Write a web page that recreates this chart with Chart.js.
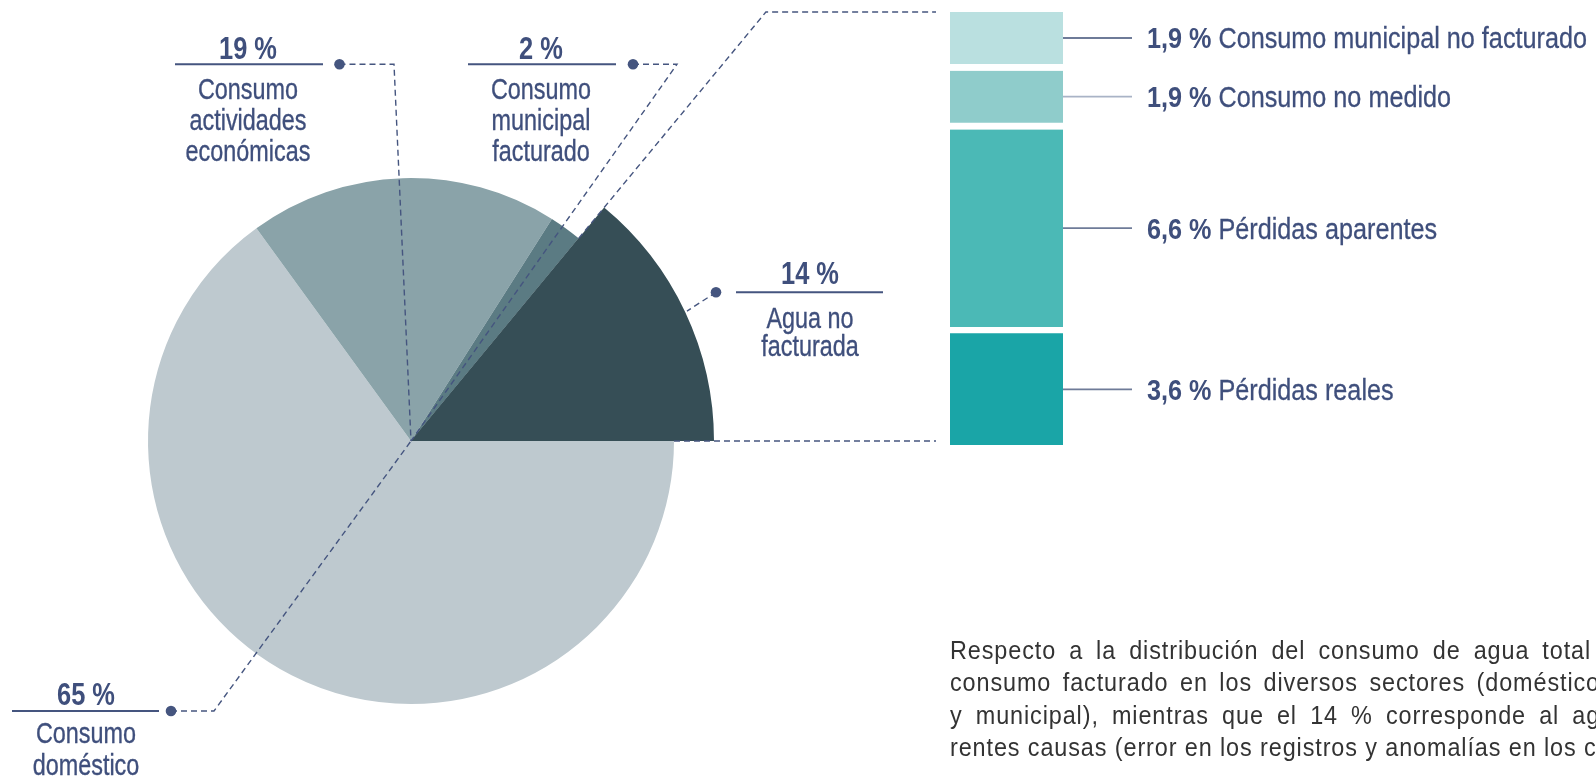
<!DOCTYPE html>
<html><head><meta charset="utf-8">
<script src="https://cdn.jsdelivr.net/npm/chart.js@4.4.0/dist/chart.umd.min.js"></script>
<style>
html,body{margin:0;padding:0;background:#fff;}
body{width:1596px;height:778px;position:relative;overflow:hidden;font-family:"Liberation Sans",Arial,sans-serif;color:#3f4f7c;}
canvas{position:absolute;}
#pie,#pieTop{left:0;top:0;}
#bar{left:937px;top:0;}
.ln{position:absolute;white-space:nowrap;text-align:center;}
.pct{font-weight:bold;font-size:31px;line-height:31px;transform:translateX(-50%) scaleX(0.82);}
.txt{font-size:29.6px;line-height:29.6px;transform:translateX(-50%) scaleX(0.79);-webkit-text-stroke:0.35px #3f4f7c;}
.loss{position:absolute;white-space:nowrap;font-size:30.2px;line-height:30.2px;transform:scaleX(0.835);transform-origin:0 50%;-webkit-text-stroke:0.3px #3f4f7c;}
.loss b{font-weight:bold;-webkit-text-stroke:0;}
#para{position:absolute;left:950px;top:633.7px;font-size:26px;line-height:32.6px;color:#333;letter-spacing:1px;white-space:nowrap;transform:scaleX(0.9);transform-origin:0 0;}
#para div{white-space:nowrap;}
</style></head><body>
<canvas id="pie" width="1596" height="778"></canvas>
<canvas id="pieTop" width="1596" height="778"></canvas>
<canvas id="bar" width="659" height="778"></canvas>
<div id="labels"></div>
<div id="para">
<div style="word-spacing:6.3px">Respecto a la distribución del consumo de agua total</div>
<div style="word-spacing:4.6px">consumo facturado en los diversos sectores (doméstico</div>
<div style="word-spacing:6.4px">y municipal), mientras que el 14 % corresponde al agua</div>
<div>rentes causas (error en los registros y anomalías en los contadores</div>
</div>
<script>
// ---- data ----
const pieLabels = ['Consumo doméstico', 'Consumo actividades económicas', 'Consumo municipal facturado', 'Agua no facturada'];
const pieLabelLines = [['Consumo', 'doméstico'], ['Consumo', 'actividades', 'económicas'], ['Consumo', 'municipal', 'facturado'], ['Agua no', 'facturada']];
const pieValues = [65, 19, 2, 14];
const pieColors = ['#bec9cf', '#8aa3a9', '#5b7b83', '#364e56'];
const highlightIndex = 3; // slice drawn with a larger radius

const lossLabels = ['Pérdidas reales', 'Pérdidas aparentes', 'Consumo no medido', 'Consumo municipal no facturado'];
const lossValues = [3.6, 6.6, 1.9, 1.9];
const lossColors = ['#1aa5a7', '#4bb9b6', '#8fcccb', '#bae0e0'];

// ---- layout (positions only; y values are text baselines) ----
const INK = '#45557f';
const pieLayout = [
  {cx: 86,  pctBase: 705.7, lineBases: [743.3, 775], ul: [12, 159, 711], dot: 171, elbow: 214},
  {cx: 248, pctBase: 59.3, lineBases: [98.8, 129.8, 160.8], ul: [175, 323, 64.3], dot: 339.5, elbow: 394},
  {cx: 541, pctBase: 59.3, lineBases: [98.8, 129.8, 160.8], ul: [468, 616, 64.3], dot: 633, elbow: 677},
  {cx: 810, pctBase: 284, lineBases: [328.5, 356.5], ul: [736, 883, 292.3], dot: 716, elbow: null}
];
const BAR_TOP = 12, CONN_END_X = 936;
const PIE_PADDING = {left: 91, top: 121, right: 865, bottom: 17};

const labelsDiv = document.getElementById('labels');
function addLine(cls, text, cx, base, fs) {
  const d = document.createElement('div');
  d.className = 'ln ' + cls;
  d.textContent = text;
  d.style.left = cx + 'px';
  d.style.top = (base - 0.8465 * fs) + 'px';
  labelsDiv.appendChild(d);
}
pieValues.forEach((v, i) => {
  const L = pieLayout[i];
  addLine('pct', v + ' %', L.cx, L.pctBase, 31);
  pieLabelLines[i].forEach((t, j) => addLine('txt', t, L.cx, L.lineBases[j], 29.6));
});

// base pie: all slices
const basePie = new Chart(document.getElementById('pie'), {
  type: 'pie',
  data: {labels: pieLabels, datasets: [{data: pieValues, backgroundColor: pieColors, borderWidth: 0}]},
  options: {
    responsive: false, animation: false, events: [],
    rotation: 90, radius: 263,
    layout: {padding: PIE_PADDING},
    plugins: {legend: {display: false}, tooltip: {enabled: false}}
  }
});

const leaderPlugin = {
  id: 'leaders',
  afterDatasetsDraw(chart) {
    const ctx = chart.ctx;
    const baseEl = basePie.getDatasetMeta(0).data[0];
    const cx = baseEl.x, cy = baseEl.y, r = baseEl.outerRadius;
    const hi = chart.getDatasetMeta(0).data[highlightIndex];
    ctx.save();
    ctx.strokeStyle = INK;
    ctx.lineWidth = 1.4;
    ctx.setLineDash([6, 4]);
    const a0 = hi.startAngle, a1 = hi.endAngle;
    const t = (BAR_TOP - cy) / Math.sin(a0);
    ctx.beginPath();
    ctx.moveTo(cx + Math.cos(a0) * r, cy + Math.sin(a0) * r);
    ctx.lineTo(cx + Math.cos(a0) * t, BAR_TOP);
    ctx.lineTo(CONN_END_X, BAR_TOP);
    ctx.stroke();
    ctx.beginPath();
    ctx.moveTo(cx + Math.cos(a1) * r, cy + Math.sin(a1) * r);
    ctx.lineTo(CONN_END_X, cy + Math.sin(a1) * r);
    ctx.stroke();
    pieLayout.forEach((L, i) => {
      const y = L.ul[2];
      ctx.beginPath();
      ctx.moveTo(L.dot, y);
      if (L.elbow !== null) {
        ctx.lineTo(L.elbow, y);
        ctx.lineTo(cx, cy);
      } else {
        const el = chart.getDatasetMeta(0).data[i];
        const m = (el.startAngle + el.endAngle) / 2;
        ctx.lineTo(cx + Math.cos(m) * (el.outerRadius + 2), cy + Math.sin(m) * (el.outerRadius + 2));
      }
      ctx.stroke();
    });
    ctx.setLineDash([]);
    ctx.lineWidth = 2;
    ctx.fillStyle = INK;
    pieLayout.forEach(L => {
      ctx.beginPath();
      ctx.moveTo(L.ul[0], L.ul[2]);
      ctx.lineTo(L.ul[1], L.ul[2]);
      ctx.stroke();
      ctx.beginPath();
      ctx.arc(L.dot, L.ul[2], 5.3, 0, Math.PI * 2);
      ctx.fill();
    });
    ctx.restore();
  }
};

// overlay pie: same data, only the highlighted slice painted, larger radius
new Chart(document.getElementById('pieTop'), {
  type: 'pie',
  data: {labels: pieLabels, datasets: [{data: pieValues,
    backgroundColor: pieColors.map((c, i) => i === highlightIndex ? c : 'rgba(0,0,0,0)'),
    borderWidth: 0}]},
  options: {
    responsive: false, animation: false, events: [],
    rotation: 90, radius: 303,
    layout: {padding: PIE_PADDING},
    plugins: {legend: {display: false}, tooltip: {enabled: false}}
  },
  plugins: [leaderPlugin]
});

const connPlugin = {
  id: 'conn',
  afterDatasetsDraw(chart) {
    const ctx = chart.ctx;
    ctx.save();
    chart.data.datasets.forEach((ds, i) => {
      const el = chart.getDatasetMeta(i).data[0];
      const bw = ds.borderWidth.bottom || 0;
      const ym = (Math.min(el.y, el.base) + Math.max(el.y, el.base) - bw) / 2;
      const xr = el.x + el.width / 2;
      ctx.strokeStyle = i === 2 ? '#a9b3c6' : '#6e7b98';
      ctx.lineWidth = i === 3 ? 2 : 1.6;
      ctx.beginPath();
      ctx.moveTo(xr, ym);
      ctx.lineTo(xr + 69, ym);
      ctx.stroke();
    });
    ctx.restore();
  }
};

const barChart = new Chart(document.getElementById('bar'), {
  type: 'bar',
  data: {
    labels: [''],
    datasets: lossValues.map((v, i) => ({
      label: lossLabels[i], data: [v], backgroundColor: lossColors[i],
      borderColor: '#ffffff', borderSkipped: false,
      borderWidth: {top: 0, left: 0, right: 0, bottom: i === 0 ? 0 : 7}
    }))
  },
  options: {
    responsive: false, animation: false, events: [],
    barPercentage: 1, categoryPercentage: 1,
    layout: {padding: {left: 13, right: 533, top: 12, bottom: 333}},
    scales: {
      x: {display: false, stacked: true},
      y: {display: false, stacked: true, min: 0, max: 14}
    },
    plugins: {legend: {display: false}, tooltip: {enabled: false}}
  },
  plugins: [connPlugin]
});

lossValues.forEach((v, i) => {
  const el = barChart.getDatasetMeta(i).data[0];
  const bw = barChart.data.datasets[i].borderWidth.bottom || 0;
  const ym = (Math.min(el.y, el.base) + Math.max(el.y, el.base) - bw) / 2;
  const xr = el.x + el.width / 2;
  const d = document.createElement('div');
  d.className = 'loss';
  d.innerHTML = '<b>' + v.toFixed(1).replace('.', ',') + ' %</b> ' + lossLabels[i];
  d.style.left = (937 + xr + 84) + 'px';
  d.style.top = (ym + 11 - 0.8465 * 30.2) + 'px';
  labelsDiv.appendChild(d);
});
</script>
</body></html>
